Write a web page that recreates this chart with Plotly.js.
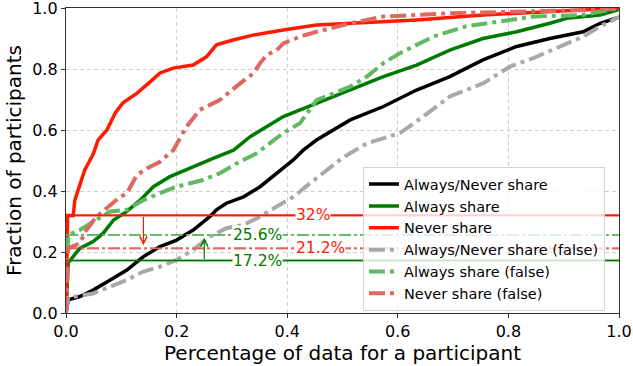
<!DOCTYPE html>
<html><head><meta charset="utf-8">
<script src="https://cdn.plot.ly/plotly-3.0.1.min.js"></script>
<style>html,body{margin:0;padding:0;background:#fff}#chart{width:633px;height:366px}</style>
</head><body><div id="chart"></div>
<script>
// Series names
const seriesNames = ["Always/Never share","Always share","Never share","Always/Never share (false)","Always share (false)","Never share (false)"];

// Always/Never share (black)
const anX = [0,0.004,0.025,0.049,0.08,0.11,0.14,0.17,0.2,0.23,0.26,0.272,0.29,0.321,0.351,0.381,0.411,0.429,0.453,0.514,0.574,0.634,0.694,0.754,0.815,0.875,0.935,0.966,0.996,1.0];
const anY = [0,0.043,0.054,0.075,0.108,0.141,0.185,0.218,0.239,0.272,0.316,0.338,0.36,0.381,0.414,0.458,0.502,0.534,0.567,0.633,0.677,0.731,0.775,0.83,0.874,0.9,0.922,0.95,0.966,0.97];

// Always share (green)
const asX = [0,0.004,0.013,0.025,0.049,0.067,0.086,0.11,0.134,0.158,0.188,0.23,0.266,0.303,0.333,0.393,0.453,0.514,0.574,0.634,0.694,0.754,0.815,0.875,0.905,0.966,0.996,1.0];
const asY = [0,0.165,0.185,0.212,0.234,0.261,0.305,0.333,0.37,0.414,0.447,0.48,0.507,0.534,0.578,0.644,0.688,0.731,0.775,0.813,0.862,0.9,0.922,0.95,0.966,0.977,0.993,1.0];

// Never share (red)
const nsX = [0,0.003,0.013,0.016,0.025,0.034,0.049,0.058,0.074,0.089,0.103,0.128,0.149,0.17,0.194,0.23,0.254,0.272,0.302,0.338,0.374,0.393,0.453,0.514,0.634,0.754,0.875,0.996,1.0];
const nsY = [0,0.32,0.32,0.37,0.42,0.469,0.52,0.567,0.6,0.656,0.689,0.72,0.753,0.787,0.803,0.813,0.84,0.879,0.895,0.911,0.922,0.928,0.944,0.95,0.961,0.977,0.988,0.999,1.0];

// Always/Never share (false) (gray)
const anfX = [0,0.004,0.049,0.08,0.11,0.14,0.17,0.2,0.23,0.26,0.29,0.321,0.351,0.381,0.411,0.441,0.471,0.501,0.544,0.604,0.646,0.694,0.754,0.803,0.845,0.905,0.935,0.966,0.996,1.0];
const anfY = [0,0.05,0.064,0.087,0.108,0.136,0.152,0.174,0.207,0.25,0.278,0.289,0.316,0.349,0.381,0.425,0.469,0.51,0.556,0.59,0.644,0.71,0.753,0.808,0.836,0.884,0.906,0.94,0.966,0.97];

// Always share (false) (light green)
const asfX = [0,0.004,0.025,0.049,0.08,0.11,0.14,0.17,0.2,0.248,0.278,0.309,0.345,0.393,0.423,0.453,0.514,0.544,0.574,0.604,0.664,0.724,0.785,0.845,0.935,0.996,1.0];
const asfY = [0,0.256,0.272,0.3,0.333,0.338,0.37,0.393,0.414,0.436,0.458,0.491,0.524,0.59,0.622,0.698,0.742,0.775,0.819,0.852,0.906,0.94,0.956,0.972,0.977,0.999,1.0];

// Never share (false) (light red)
const nsfX = [0,0.004,0.025,0.037,0.055,0.08,0.098,0.11,0.128,0.146,0.17,0.194,0.218,0.242,0.278,0.315,0.339,0.351,0.363,0.381,0.393,0.423,0.453,0.514,0.574,0.694,0.815,0.935,1.0];
const nsfY = [0,0.212,0.229,0.272,0.316,0.354,0.381,0.392,0.452,0.474,0.496,0.534,0.611,0.666,0.698,0.753,0.786,0.819,0.846,0.862,0.884,0.906,0.922,0.95,0.972,0.983,0.989,0.993,1.0];

// Reference thresholds and labels
const refValues = [0.32, 0.256, 0.212, 0.172];
const refLabels = ["32%", "25.6%", "21.2%", "17.2%"];
const refLabelX = [0.447, 0.347, 0.46, 0.347];
// arrows: x, start value, end value
const arrowX = [0.14, 0.25];
const arrowFrom = [0.32, 0.172];
const arrowTo = [0.222, 0.247];

const colors = ["#000000","#007a00","#ff1a00","#a9a9a9","#63b863","#df6860"];
const refColors = ["#ff1a00","#63b863","#df6860","#007a00"];
const refTextColors = ["#ff1a00","#007a00","#ff1a00","#007a00"];
const refDash = ["solid","dashdot","dashdot","solid"];
const dd = "16px,5px,4px,5px";

const xs = [anX, asX, nsX, anfX, asfX, nsfX];
const ys = [anY, asY, nsY, anfY, asfY, nsfY];

const traces = [];
function refTrace(v,i){
  return {x:[0,1], y:[v,v], mode:'lines', showlegend:false, hoverinfo:'skip',
    line:{color:refColors[i], width:1.6, dash: refDash[i]==='solid'?'solid':'12px,3px,3px,3px'}};
}
refValues.forEach((v,i)=>traces.push(refTrace(v,i)));
for (let i=0;i<6;i++){
  traces.push({x:xs[i], y:ys[i], mode:'lines', name:seriesNames[i], legendgroup:'g'+i,
    line:{color:colors[i], width: i<3?3.5:4, dash: i<3?'solid':dd, shape:'linear'}});
}
refValues.forEach((v,i)=>traces.push(refTrace(v,i)));

const annotations = [];
refValues.forEach((v,i)=>{
  annotations.push({x:refLabelX[i], y:v, xref:'x', yref:'y', text:refLabels[i], showarrow:false,
    bgcolor:'#ffffff', borderpad:0, font:{family:'DejaVu Sans', size:15.5, color:refTextColors[i]}});
});
arrowX.forEach((ax,i)=>{
  annotations.push({x:ax, y:arrowTo[i], ax:ax, ay:arrowFrom[i], axref:'x', ayref:'y', xref:'x', yref:'y',
    text:'', showarrow:true, arrowhead:5, arrowsize:1.2, arrowwidth:1.2, arrowcolor: i===0?'#ff1a00':'#007a00'});
});

const axisCommon = {range:[0,1], tickvals:[0,0.2,0.4,0.6,0.8,1.0], ticktext:['0.0','0.2','0.4','0.6','0.8','1.0'],
    showgrid:true, gridcolor:'#cfcfcf', griddash:'4px,3px', gridwidth:1,
    showline:true, linecolor:'#333', linewidth:1.2, mirror:true,
    ticks:'outside', ticklen:4, tickcolor:'#333', tickfont:{size:16},
    ticklabeloverflow:'allow', zeroline:false};

const layout = {
  width:633, height:366,
  margin:{l:66, r:14, t:8, b:53},
  paper_bgcolor:'#fff', plot_bgcolor:'#fff',
  font:{family:'DejaVu Sans', color:'#000'},
  xaxis:Object.assign({}, axisCommon, {title:{text:'Percentage of data for a participant', font:{size:20}, standoff:4}}),
  yaxis:Object.assign({}, axisCommon, {title:{text:'Fraction of participants', font:{size:20}, standoff:5}}),
  legend:{x:0.537, y:0.006, xanchor:'left', yanchor:'bottom', bgcolor:'rgba(255,255,255,0.8)',
    bordercolor:'#d6d6d6', borderwidth:1, font:{size:14.5}, tracegroupgap:0},
  annotations: annotations,
  showlegend:true
};
Plotly.newPlot('chart', traces, layout, {staticPlot:true, displayModeBar:false});
</script></body></html>
